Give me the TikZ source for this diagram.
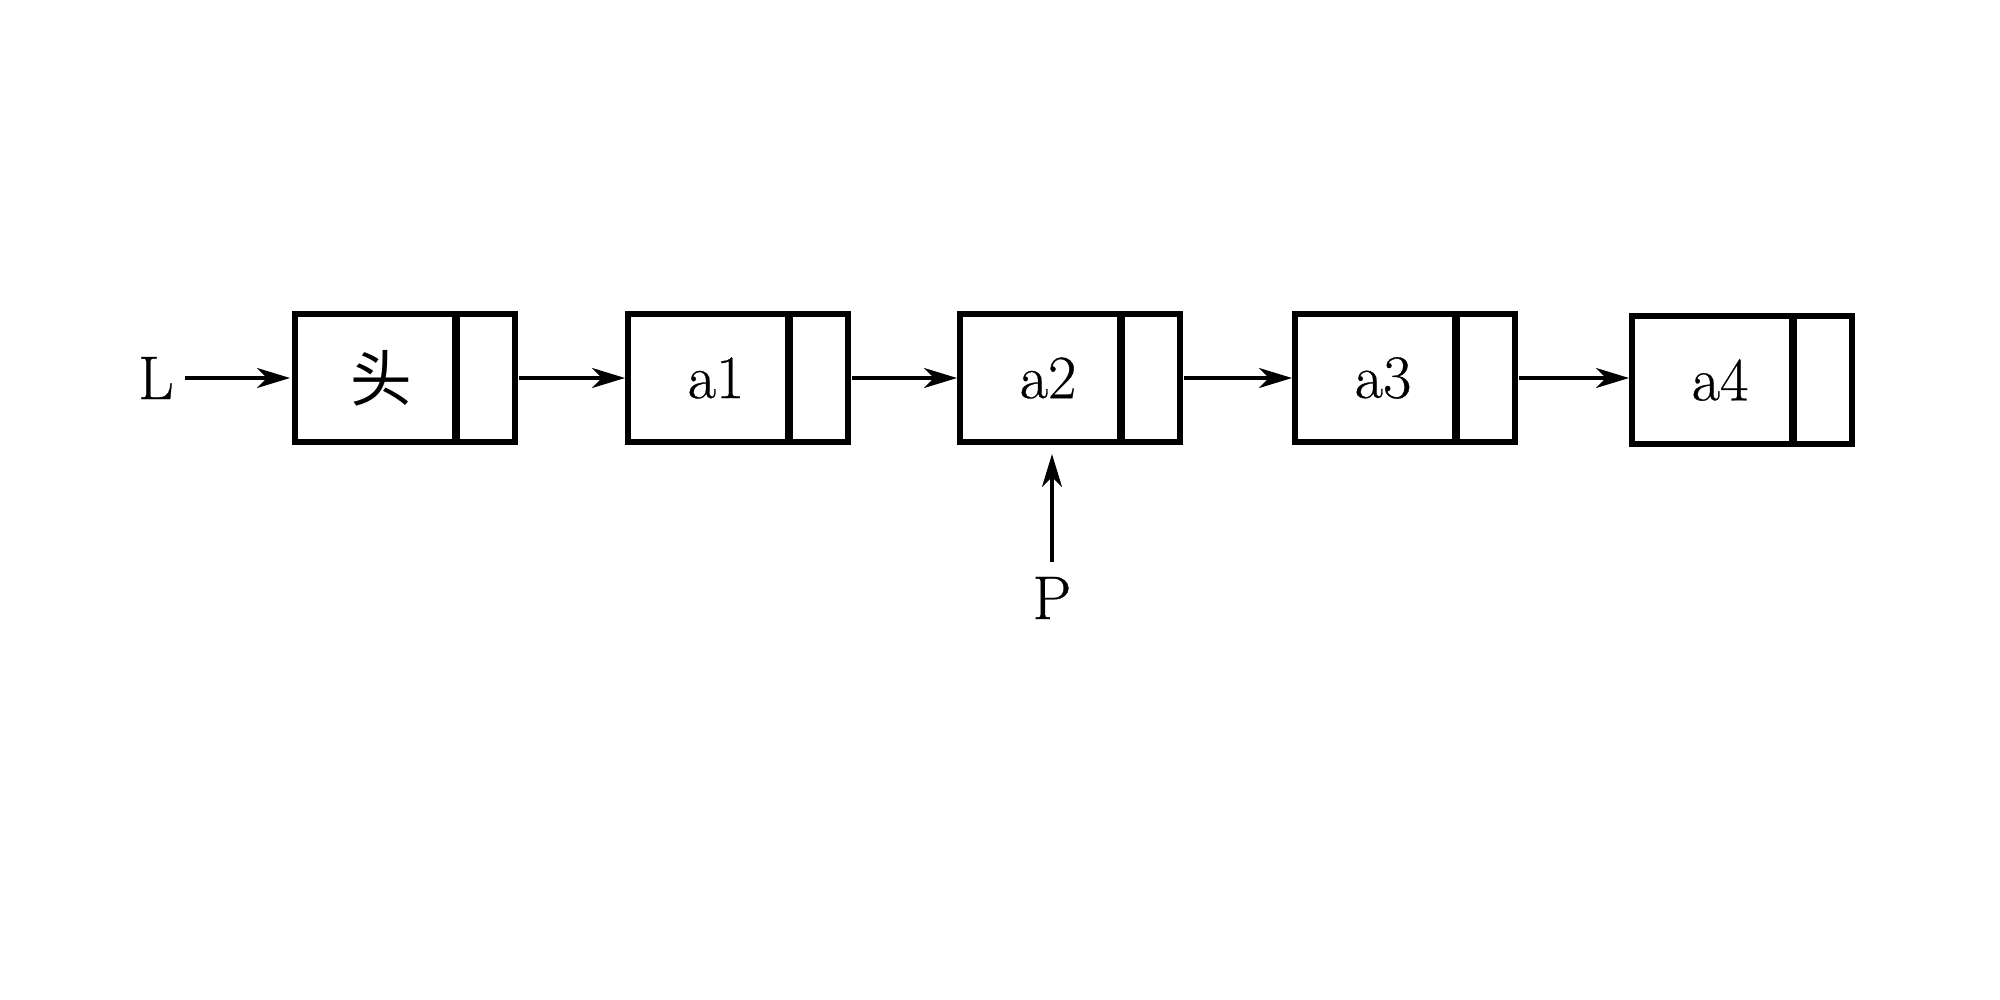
\documentclass[tikz,border=0pt]{standalone}
\usepackage{fontspec}
\setmainfont{Latin Modern Roman}[FakeBold=0.5]
\newfontfamily\cjk{Noto Sans CJK SC}
\usetikzlibrary{arrows.meta}
\begin{document}
\begin{tikzpicture}[x=0.01cm,y=-0.01cm,
  cellbox/.style={draw, line width=1.6pt, minimum height=1.28cm, inner sep=0pt, outer sep=0pt, anchor=west, font=\fontsize{17.5}{21}\selectfont},
  datacell/.style={cellbox, minimum width=1.61cm},
  ptrcell/.style={cellbox, minimum width=0.59cm},
  divider/.style={line width=2.4pt},
  link/.style={-{Stealth[length=0.33cm,width=0.2cm,inset=0.1cm]}, line width=0.95pt, shorten <=0.04cm, shorten >=0.03cm},
  lbl/.style={font=\fontsize{17.5}{21}\selectfont, inner sep=0pt}]
\useasboundingbox (0,0) rectangle (2000,1000);
\node[datacell] (d0) at (295,378) {\kern0.12cm{\cjk 头}};
\node[datacell] (d1) at (628,378) {\kern0.15cm a1};
\node[datacell] (d2) at (960,378) {\kern0.15cm a2};
\node[datacell] (d3) at (1295,378) {\kern0.15cm a3};
\node[datacell] (d4) at (1632,380) {\kern0.15cm a4};
\foreach \i in {0,...,4}{
  \node[ptrcell] (p\i) at (d\i.east) {};
  \draw[divider] (d\i.north east) -- (d\i.south east);
}
\foreach \i/\j in {0/1,1/2,2/3,3/4}{
  \draw[link] (p\i.east) -- (p\i.east -| d\j.west);
}
\node[lbl] (L) at (156,378) {L};
\node[lbl] (P) at (1052,598) {P};
\draw[link, shorten <=0.11cm, shorten >=0.05cm] (L.east) -- (d0.west);
\coordinate (ptgt) at (P.north |- d2.south);
\draw[link, shorten <=0.14cm, shorten >=0.12cm] (P.north) -- (ptgt);
\end{tikzpicture}
\end{document}
